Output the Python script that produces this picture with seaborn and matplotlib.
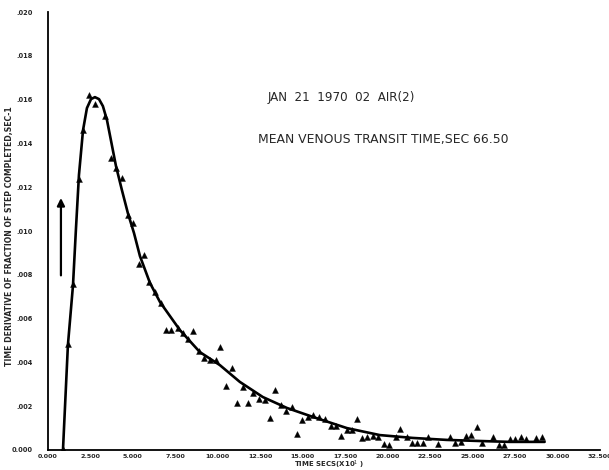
import matplotlib
matplotlib.use("Agg")
import matplotlib.pyplot as plt
import seaborn as sns
import pandas as pd

# measured points (time in secs x10, derivative in 1/sec x 1e-3)
pt_x = [0.90, 1.19, 1.49, 1.84, 2.08, 2.43, 2.78, 3.37, 3.72, 4.02, 4.37, 4.72, 5.02, 5.37, 5.66,
        5.96, 6.31, 6.66, 6.96, 7.25, 7.66, 7.96, 8.25, 8.55, 8.90, 9.19, 9.55, 9.90, 10.13, 10.49,
        10.84, 11.13, 11.49, 11.78, 12.08, 12.43, 12.78, 13.08, 13.37, 13.72, 14.02, 14.37, 14.66,
        14.96, 15.31, 15.61, 15.96, 16.31, 16.66, 16.96, 17.25, 17.61, 17.90, 18.19, 18.49, 18.78,
        19.14, 19.43, 19.78, 20.08, 20.49, 20.72, 21.13, 21.43, 21.72, 22.07, 22.37, 22.96, 23.66,
        23.96, 24.31, 24.61, 24.90, 25.25, 25.55, 26.19, 26.55, 26.84, 27.19, 27.49, 27.84, 28.13,
        28.72, 29.07]
pt_y = [0.05, 4.84, 7.58, 12.37, 14.61, 16.21, 15.80, 15.25, 13.33, 12.88, 12.42, 10.73, 10.37, 8.49, 8.90,
        7.67, 7.21, 6.71, 5.48, 5.48, 5.57, 5.34, 5.07, 5.43, 4.52, 4.20, 4.11, 4.11, 4.70, 2.92,
        3.74, 2.15, 2.88, 2.15, 2.60, 2.33, 2.28, 1.46, 2.74, 2.05, 1.78, 1.96, 0.73,
        1.37, 1.51, 1.60, 1.51, 1.42, 1.10, 1.10, 0.64, 0.91, 0.91, 1.42, 0.55, 0.59,
        0.64, 0.59, 0.27, 0.23, 0.59, 0.96, 0.59, 0.32, 0.32, 0.32, 0.59, 0.27, 0.59,
        0.32, 0.37, 0.64, 0.68, 1.05, 0.32, 0.59, 0.23, 0.23, 0.50, 0.50, 0.59, 0.50,
        0.55, 0.59]

# fitted curve
fit_x = [0.90, 1.19, 1.49, 1.66, 1.84, 2.08, 2.31, 2.55, 2.78, 3.02, 3.25, 3.49, 3.72, 4.02, 4.37,
         4.72, 5.08, 5.43, 6.02, 6.61, 7.78, 8.96, 10.13, 11.31, 12.66, 14.08, 15.61, 17.61, 19.55,
         21.49, 23.49, 25.43, 27.19, 29.25]
fit_y = [0.0, 4.79, 7.53, 10.05, 12.56, 14.61, 15.62, 16.03, 16.12, 16.03, 15.71, 15.07, 14.16, 12.97, 11.87,
         10.82, 9.91, 8.86, 7.63, 6.76, 5.48, 4.47, 3.88, 3.11, 2.42, 1.92, 1.51, 1.00, 0.68,
         0.55, 0.46, 0.41, 0.37, 0.37]

x_ticks = [0, 2.5, 5, 7.5, 10, 12.5, 15, 17.5, 20, 22.5, 25, 27.5, 30, 32.5]
x_tick_labels = ["0.000", "2.500", "5.000", "7.500", "10.000", "12.500", "15.000", "17.500",
                 "20.000", "22.500", "25.000", "27.500", "30.000", "32.500"]
y_ticks = [0, 2, 4, 6, 8, 10, 12, 14, 16, 18, 20]
y_tick_labels = ["0.000", ".002", ".004", ".006", ".008", ".010", ".012", ".014", ".016", ".018", ".020"]

arrow_x = 0.78
arrow_y0, arrow_y1 = 7.85, 11.64

sns.set_theme(style="white")
plt.rcParams['font.family'] = ['DejaVu Sans']

fig = plt.figure(figsize=(6.09, 4.70), dpi=100)
ax = fig.add_axes([0.0783, 0.0426, 0.985 - 0.0783, 0.974 - 0.0426])

pts = pd.DataFrame({"t": pt_x, "d": [v / 1000 for v in pt_y]})
fit = pd.DataFrame({"t": fit_x, "d": [v / 1000 for v in fit_y]})

sns.lineplot(data=fit, x="t", y="d", sort=False, color="black", linewidth=1.9, ax=ax)
sns.scatterplot(data=pts, x="t", y="d", marker="^", s=18, color="black", edgecolor="black",
                linewidth=0.3, ax=ax, zorder=3)

ax.annotate("", xy=(arrow_x, arrow_y1 / 1000), xytext=(arrow_x, arrow_y0 / 1000),
            arrowprops=dict(arrowstyle="-|>", color="black", lw=1.6, mutation_scale=11))

ax.set_xlim(0, 32.5)
ax.set_ylim(0, 0.020)
ax.set_xticks(x_ticks)
ax.set_xticklabels(x_tick_labels, fontsize=4.6, fontweight="bold")
ax.set_yticks([v / 1000 for v in y_ticks])
ax.set_yticklabels(y_tick_labels, fontsize=4.8, fontweight="bold")
ax.tick_params(axis="both", direction="inout", length=5, width=1.0, color="black")
ax.tick_params(axis="x", pad=0.5)
ax.tick_params(axis="y", pad=8)

for s in ["top", "right"]:
    ax.spines[s].set_visible(False)
for s in ["left", "bottom"]:
    ax.spines[s].set_color("black")
    ax.spines[s].set_linewidth(1.3)

ax.set_xlabel("")
ax.set_ylabel("")

fig.text(294 / 609, 1 - 464.5 / 470, "TIME SECS(X10$^{1}$ )", fontsize=5.0, fontweight="bold",
         ha="left", va="center")
fig.text(10 / 609, 1 - 236 / 470, "TIME DERIVATIVE OF FRACTION OF STEP COMPLETED,SEC-1",
         fontsize=5.6, fontweight="bold", rotation=90, ha="center", va="center")

fig.text(268 / 609, 1 - 97 / 470, "JAN  21  1970  02  AIR(2)", fontsize=8.6,
         ha="left", va="center")
fig.text(258 / 609, 1 - 140 / 470, "MEAN VENOUS TRANSIT TIME,SEC 66.50", fontsize=8.9,
         ha="left", va="center")

fig.savefig("out.png", dpi=100)
